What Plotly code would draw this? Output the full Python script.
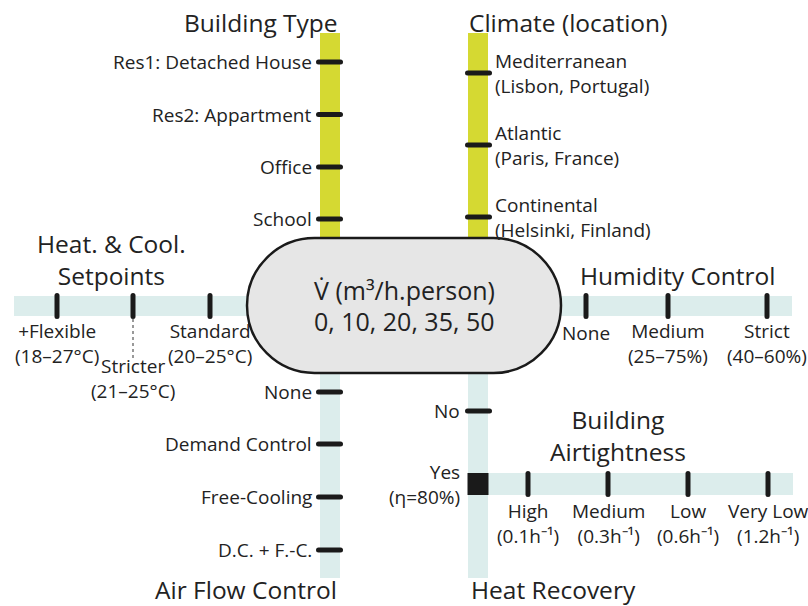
import plotly.graph_objects as go

# ---------------- data (labels of each design factor) ----------------
building_types = ["Res1: Detached House", "Res2: Appartment", "Office", "School"]
climates = [["Mediterranean", "(Lisbon, Portugal)"], ["Atlantic", "(Paris, France)"],
            ["Continental", "(Helsinki, Finland)"]]
setpoints = [["+Flexible", "(18–27°C)"], ["Stricter", "(21–25°C)"], ["Standard", "(20–25°C)"]]
humidity = [["None"], ["Medium", "(25–75%)"], ["Strict", "(40–60%)"]]
airflow = ["None", "Demand Control", "Free-Cooling", "D.C. + F.-C."]
heat_recovery = [["No"], ["Yes", "(η=80%)"]]
airtightness = [["High", "(0.1h⁻¹)"], ["Medium", "(0.3h⁻¹)"],
                ["Low", "(0.6h⁻¹)"], ["Very Low", "(1.2h⁻¹)"]]
ventilation_rates = [0, 10, 20, 35, 50]
center_title = "V̇ (m³/h.person)"
title_building = ["Building Type"]
title_climate = ["Climate (location)"]
title_setpoints = ["Heat. & Cool.", "Setpoints"]
title_humidity = ["Humidity Control"]
title_airflow = ["Air Flow Control"]
title_heatrec = ["Heat Recovery"]
title_airtight = ["Building", "Airtightness"]

# ---------------- layout geometry (diagram positions) ----------------
W, H = 808, 606
FONT = "Open Sans"
TXT = "#222222"
YELLOW = "#d5d932"
CYAN = "#dcedec"
BAR = 20
TICK_W = 5
LAB = 19
TIT = 24.5
CEN = 25

bt_x, bt_y0, bt_y1, bt_ticks = 330, 33, 240, [62, 114.5, 167, 219]
cl_x, cl_y0, cl_y1, cl_ticks = 478, 33, 240, [73, 145, 217]
sp_y, sp_x0, sp_x1, sp_ticks = 306, 14, 250, [57, 133, 210]
hu_y, hu_x0, hu_x1, hu_ticks = 306, 558, 792, [586, 668, 767]
af_x, af_y0, af_y1, af_ticks = 330, 370, 578, [392, 444, 497, 550]
hr_x, hr_y0, hr_y1, hr_ticks = 478, 370, 578, [411, 484]
at_y, at_x0, at_x1, at_ticks = 484, 478, 793, [528, 608, 688, 768]
oval = dict(x0=247, x1=561, y0=238, y1=373)

shapes = []
annotations = []


def rect(x0, y0, x1, y1, color, layer="below"):
    shapes.append(dict(type="rect", xref="x", yref="y", x0=x0, x1=x1, y0=y0, y1=y1,
                       fillcolor=color, line=dict(width=0), layer=layer))


def pill(x0, y0, x1, y1, color="#1a1a1a"):
    # rounded-end bar (horizontal if wider than tall)
    if x1 - x0 >= y1 - y0:
        r = (y1 - y0) / 2
        p = (f"M{x0 + r},{y0} L{x1 - r},{y0} Q{x1},{y0} {x1},{y0 + r} Q{x1},{y1} {x1 - r},{y1} "
             f"L{x0 + r},{y1} Q{x0},{y1} {x0},{y0 + r} Q{x0},{y0} {x0 + r},{y0} Z")
    else:
        r = (x1 - x0) / 2
        p = (f"M{x0},{y0 + r} Q{x0},{y0} {x0 + r},{y0} Q{x1},{y0} {x1},{y0 + r} L{x1},{y1 - r} "
             f"Q{x1},{y1} {x0 + r},{y1} Q{x0},{y1} {x0},{y1 - r} Z")
    shapes.append(dict(type="path", xref="x", yref="y", path=p, fillcolor=color,
                       line=dict(width=0)))


def text(x, y, parts, size=LAB, xanchor="center"):
    if isinstance(parts, str):
        parts = [parts]
    annotations.append(dict(x=x, y=y, xref="x", yref="y", text="<br>".join(parts),
                            showarrow=False, xanchor=xanchor, yanchor="middle",
                            align=xanchor, borderpad=0,
                            font=dict(family=FONT, size=size, color=TXT)))


# vertical bars
rect(bt_x - BAR / 2, bt_y0, bt_x + BAR / 2, bt_y1, YELLOW)
rect(cl_x - BAR / 2, cl_y0, cl_x + BAR / 2, cl_y1, YELLOW)
rect(af_x - BAR / 2, af_y0, af_x + BAR / 2, af_y1, CYAN)
rect(hr_x - BAR / 2, hr_y0, hr_x + BAR / 2, hr_y1, CYAN)
# horizontal bars
rect(sp_x0, sp_y - BAR / 2, sp_x1, sp_y + BAR / 2, CYAN)
rect(hu_x0, hu_y - BAR / 2, hu_x1, hu_y + BAR / 2, CYAN)
rect(at_x0, at_y - 11, at_x1, at_y + 11, CYAN)

# central oval
r = (oval["y1"] - oval["y0"]) / 2
k = 0.5523 * r
ox0, ox1, oy0, oy1 = oval["x0"], oval["x1"], oval["y0"], oval["y1"]
cy = (oy0 + oy1) / 2
path = (f"M{ox0 + r},{oy0} L{ox1 - r},{oy0} "
        f"C{ox1 - r + k},{oy0} {ox1},{cy - k} {ox1},{cy} "
        f"C{ox1},{cy + k} {ox1 - r + k},{oy1} {ox1 - r},{oy1} "
        f"L{ox0 + r},{oy1} "
        f"C{ox0 + r - k},{oy1} {ox0},{cy + k} {ox0},{cy} "
        f"C{ox0},{cy - k} {ox0 + r - k},{oy0} {ox0 + r},{oy0} Z")
shapes.append(dict(type="path", xref="x", yref="y", path=path, fillcolor="#e6e6e6",
                   line=dict(color="#1a1a1a", width=2.5)))
text((ox0 + ox1) / 2, 290, center_title, size=CEN)
text((ox0 + ox1) / 2, 321, ", ".join(str(v) for v in ventilation_rates), size=CEN)

# Building type
for lab, ty in zip(building_types, bt_ticks):
    pill(bt_x - 14, ty - TICK_W / 2, bt_x + 13, ty + TICK_W / 2)
    text(bt_x - 17, ty, lab, xanchor="right")
text(bt_x + 9, 22, title_building, size=TIT, xanchor="right")

# Climate
for parts, ty in zip(climates, cl_ticks):
    pill(cl_x - 13, ty - TICK_W / 2, cl_x + 14, ty + TICK_W / 2)
    text(cl_x + 16, ty, parts, xanchor="left")
text(cl_x - 10, 22, title_climate, size=TIT, xanchor="left")

# Setpoints
for i, (parts, tx) in enumerate(zip(setpoints, sp_ticks)):
    pill(tx - TICK_W / 2, sp_y - 13, tx + TICK_W / 2, sp_y + 13)
    if i == 1:
        shapes.append(dict(type="line", xref="x", yref="y", x0=tx, x1=tx, y0=sp_y + 13,
                           y1=sp_y + 52, line=dict(color="#999999", width=2, dash="dot")))
        text(tx, 378, parts)
    else:
        text(tx, 343, parts)
text(111, 259, title_setpoints, size=TIT)

# Humidity
for parts, tx in zip(humidity, hu_ticks):
    pill(tx - TICK_W / 2, hu_y - 13, tx + TICK_W / 2, hu_y + 13)
    text(tx, 333 if len(parts) == 1 else 343, parts)
text(677, 275, title_humidity, size=TIT)

# Air flow control
for lab, ty in zip(airflow, af_ticks):
    pill(af_x - 14, ty - TICK_W / 2, af_x + 13, ty + TICK_W / 2)
    text(af_x - 17, ty, lab, xanchor="right")
text(af_x + 8, 589.5, title_airflow, size=TIT, xanchor="right")

# Heat recovery
pill(hr_x - 13, hr_ticks[0] - TICK_W / 2, hr_x + 14, hr_ticks[0] + TICK_W / 2)
text(hr_x - 17, hr_ticks[0], heat_recovery[0], xanchor="right")
rect(hr_x - 10.5, hr_ticks[1] - 11, hr_x + 10.5, hr_ticks[1] + 11, "#1a1a1a", layer="above")
text(hr_x - 17, hr_ticks[1], heat_recovery[1], xanchor="right")
text(hr_x - 8, 589.5, title_heatrec, size=TIT, xanchor="left")

# Airtightness
for parts, tx in zip(airtightness, at_ticks):
    pill(tx - TICK_W / 2, at_y - 13, tx + TICK_W / 2, at_y + 13)
    text(tx, 523, parts)
text(618, 435, title_airtight, size=TIT)

fig = go.Figure()
fig.update_layout(
    width=W, height=H, margin=dict(l=0, r=0, t=0, b=0),
    paper_bgcolor="white", plot_bgcolor="white",
    xaxis=dict(range=[0, W], visible=False, fixedrange=True),
    yaxis=dict(range=[H, 0], visible=False, fixedrange=True),
    shapes=shapes, annotations=annotations, showlegend=False,
)
fig.write_html(
    "out.html",
    config={"displayModeBar": False},
    post_script="document.body.style.margin='0';"
                "document.documentElement.style.overflow='hidden';",
)
